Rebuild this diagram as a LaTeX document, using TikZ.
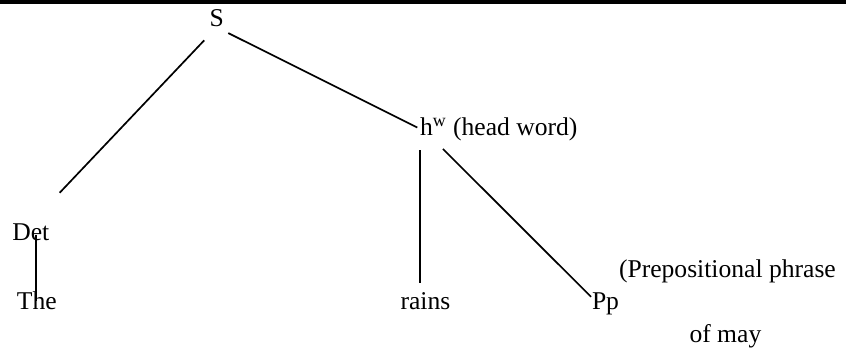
\documentclass[tikz,border=0pt]{standalone}
\usepackage{fontspec}
\setmainfont{Liberation Serif}
\usepackage{tikz}
\usetikzlibrary{calc}
\usetikzlibrary{positioning}
\newcommand{\wordfont}{\fontsize{12.8}{15.4}\selectfont}
\tikzset{every picture/.style={line width=0.85pt},word/.style={anchor=base west,inner sep=0pt,outer sep=0pt,font=\wordfont}}

\begin{document}
\begin{tikzpicture}[x=0.5pt,y=-0.5pt]
\useasboundingbox (0,0) rectangle (846,353);
\fill (0,0) rectangle (846,4);
\node[word] (S) at (209.5,27) {S};
\node[word] (hw) at (420,135) {h\textsuperscript{w} (head word)};
\node[word] (Det) at (12.3,240) {Det};
\node[word] (The) at (17,309.5) {The};
\node[word] (rains) at (400.5,309.5) {rains};
\node[word] (Pp) at (592,309.5) {Pp};
\node[word] (prep) at (619,277.5) {(Prepositional phrase};
\node[word] (ofmay) at (689.5,342) {of may};
% branches
\draw[shorten <=9pt, shorten >=21pt] (S.south) -- (Det.north);
\draw[shorten <=6.5pt, shorten >=1.5pt] (S.south) -- (hw.west);
\draw[shorten <=5pt, shorten >=5pt] (hw.south west) -- (hw.south west |- rains.north);
\draw[shorten <=6pt, shorten >=0.7pt] ([xshift=7.2pt]hw.south west) -- ([yshift=-2.5pt]Pp.north west);
\draw[shorten <=-2.5pt] ([xshift=2.6pt]Det.south) -- ([xshift=2.6pt]Det.south |- The.center);
\end{tikzpicture}
\end{document}
